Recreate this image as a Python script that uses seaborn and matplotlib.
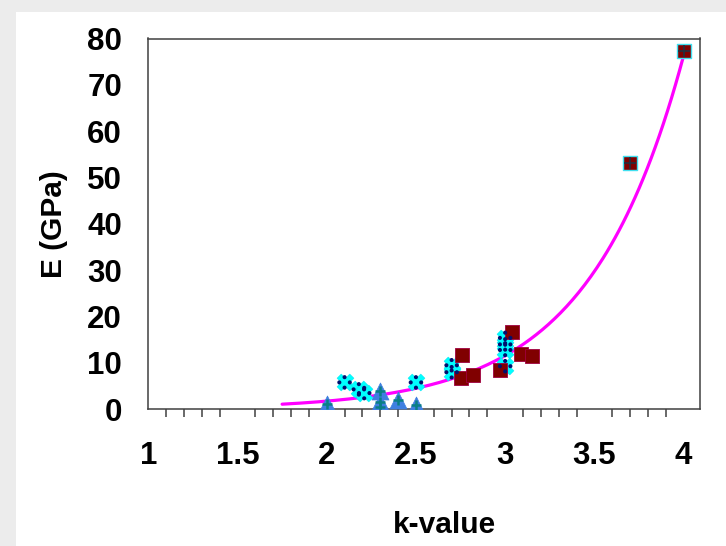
import numpy as np
import pandas as pd
import matplotlib
matplotlib.use("Agg")
import matplotlib.pyplot as plt
from matplotlib.path import Path
from matplotlib.markers import MarkerStyle
from matplotlib.patches import Rectangle
from matplotlib.ticker import MultipleLocator
import seaborn as sns

# ---------------- data ----------------
tri_k = [2.0, 2.3, 2.3, 2.3, 2.4, 2.5]
tri_E = [1.2, 4.0, 1.5, 0.4, 2.0, 1.0]

cyan_k = [2.1, 2.18, 2.21, 2.5, 2.7, 2.7, 3.0, 3.0, 3.0, 3.0]
cyan_E = [5.8, 4.3, 3.5, 5.8, 9.5, 8.0, 15.4, 14.0, 12.8, 9.3]

sq_k = [2.76, 2.75, 2.82, 2.97, 3.04, 3.09, 3.15]
sq_E = [11.8, 6.7, 7.3, 8.4, 16.6, 12.0, 11.6]

big_k = [3.7, 4.0]
big_E = [53.1, 77.2]

# points
curve_k = [1.75, 2.0, 2.19, 2.41, 2.62, 2.86, 3.14, 3.23, 3.5, 3.7, 4.0]
curve_E = [1.1, 1.65, 2.7, 3.8, 6.0, 8.7, 14.6, 18.3, 28.6, 44.0, 77.0]

x_ticks = [1, 1.5, 2, 2.5, 3, 3.5, 4]
x_tick_labels = ["1", "1.5", "2", "2.5", "3", "3.5", "4"]
y_ticks = [0, 10, 20, 30, 40, 50, 60, 70, 80]

# ---------------- figure ----------------
sns.set_style("white")
plt.rcParams["font.family"] = ["Liberation Sans", "DejaVu Sans"]
plt.rcParams["text.color"] = "black"
plt.rcParams["xtick.color"] = "black"
plt.rcParams["ytick.color"] = "black"

W, H = 726, 546
fig = plt.figure(figsize=(W / 100, H / 100), dpi=100, facecolor="#ececec")
fig.patches.append(Rectangle((16 / W, 0), 1, (H - 12) / H, transform=fig.transFigure,
                             facecolor="white", edgecolor="none", zorder=-5))

ax = fig.add_axes([148.3 / W, 1 - 409.3 / H, (700 - 148.3) / W, (409.3 - 38.5) / H])
ax.set_zorder(2)
ax.set_facecolor("white")

# trend line: exponential least-squares fit of the points read on the curve
b, ln_a = np.polyfit(curve_k, np.log(curve_E), 1)
kk = np.linspace(min(curve_k), max(curve_k), 200)
trend = pd.DataFrame({"k": kk, "E": np.exp(ln_a) * np.exp(b * kk)})
sns.lineplot(data=trend, x="k", y="E", ax=ax, color="#ff00ff", linewidth=2.3,
             zorder=2, legend=False)

# triangles
tri = pd.DataFrame({"k": tri_k, "E": tri_E})
sns.scatterplot(data=tri, x="k", y="E", ax=ax, marker="^", s=150, color="#3f7fe0",
                edgecolor="#3f7fe0", linewidth=0.5, zorder=3, legend=False)
sns.scatterplot(data=tri, x="k", y="E", ax=ax, marker="+", s=60, color="#0a7f86",
                linewidth=1.8, zorder=4, legend=False)

# cyan patterned markers
cy = pd.DataFrame({"k": cyan_k, "E": cyan_E})
sns.scatterplot(data=cy, x="k", y="E", ax=ax, marker="X", s=150, color="#00ffff",
                edgecolor="#00e0f0", linewidth=0.3, zorder=3, legend=False)
r = 0.14
dots = Path.make_compound_path(*[Path.circle((cx, cy_), r) for cx, cy_ in
                                 [(0, 0.36), (0, -0.36), (0.36, 0), (-0.36, 0)]])
sns.scatterplot(data=cy, x="k", y="E", ax=ax, marker=MarkerStyle(dots), s=110,
                color="#00106e", edgecolor="none", zorder=4, legend=False)

# dark red squares
sq = pd.DataFrame({"k": sq_k, "E": sq_E})
sns.scatterplot(data=sq, x="k", y="E", ax=ax, marker="s", s=100, color="#800000",
                edgecolor="#a00040", linewidth=0.6, zorder=3, legend=False)

# overlapping points at the high end
bg = pd.DataFrame({"k": big_k, "E": big_E})
sns.scatterplot(data=bg, x="k", y="E", ax=ax, marker="s", s=100, color="#800000",
                edgecolor="#40e0f0", linewidth=1.0, zorder=3, legend=False)
sns.scatterplot(data=bg, x="k", y="E", ax=ax, marker="+", s=80, color="#203040",
                linewidth=1.2, zorder=4, legend=False)

# ---------------- axes styling ----------------
ax.set_xlim(1, 4.092)
ax.set_ylim(0, 80)
ax.set_xticks(x_ticks)
ax.set_xticklabels(x_tick_labels)
ax.xaxis.set_minor_locator(MultipleLocator(0.1))
ax.set_yticks(y_ticks)
ax.set_yticklabels([str(v) for v in y_ticks])

for side in ["left", "right", "top", "bottom"]:
    ax.spines[side].set_visible(True)
    ax.spines[side].set_color("#404040")
    ax.spines[side].set_linewidth(1.1)

ax.tick_params(axis="x", which="major", direction="out", length=8, width=1.1,
               color="#404040", labelcolor="black", pad=15, labelsize=22.5)
ax.tick_params(axis="x", which="minor", direction="out", length=5.5, width=1.1,
               color="#404040", bottom=True)
ax.tick_params(axis="y", which="major", direction="out", length=8, width=1.1,
               color="#404040", labelcolor="black", pad=11, labelsize=22.5)
for lab in ax.get_xticklabels() + ax.get_yticklabels():
    lab.set_fontweight("bold")

ax.set_xlabel("")
ax.set_ylabel("")
fig.text(444 / W, 1 - 525 / H, "k-value", ha="center", va="center",
         fontsize=21.5, fontweight="bold", color="black")
fig.text(54 / W, 1 - 224 / H, "E (GPa)", ha="center", va="center", rotation=90,
         fontsize=21.5, fontweight="bold", color="black")

fig.savefig("out.png", dpi=100, facecolor=fig.get_facecolor())
